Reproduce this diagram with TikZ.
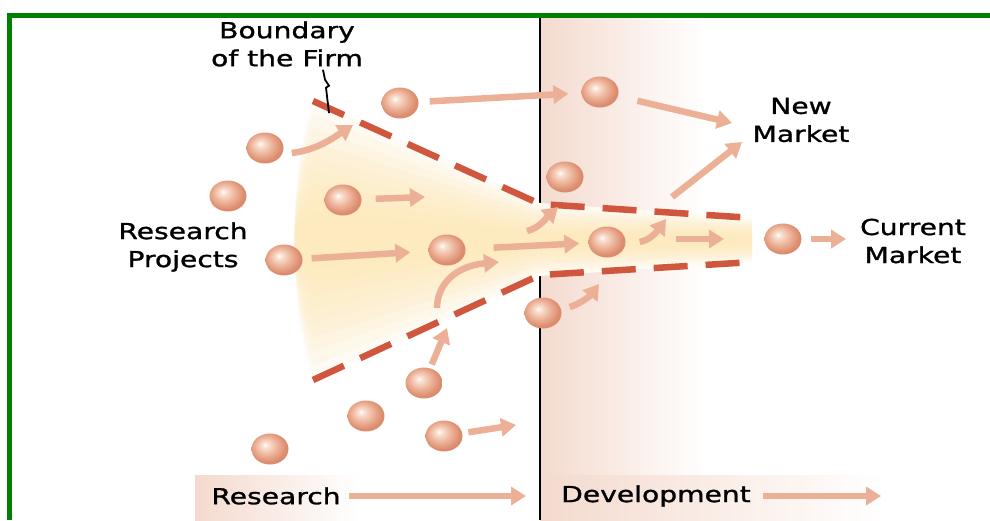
\documentclass[tikz,border=0pt]{standalone}
\usepackage{xcolor}
\usepackage{fontspec}
\usetikzlibrary{arrows.meta,shapes.geometric}
\newfontfamily\lblfont{DejaVu Sans}[FakeStretch=1.28,FakeBold=1.2]
\definecolor{arrowc}{RGB}{236,176,150}
\definecolor{dashc}{RGB}{208,86,62}
\definecolor{pinkc}{RGB}{244,218,206}
\definecolor{yelc}{RGB}{253,228,165}
\definecolor{ballA}{RGB}{250,226,212}
\definecolor{ballB}{RGB}{238,182,156}
\definecolor{ballC}{RGB}{220,140,110}
\definecolor{framec}{RGB}{0,128,0}
\pgfdeclareradialshading{sphere}{\pgfpoint{-7bp}{7bp}}{color(0bp)=(white); color(4bp)=(ballA); color(14bp)=(ballB); color(25bp)=(ballC); color(50bp)=(ballC)}

\begin{document}
\begin{tikzpicture}[x=1pt,y=-1pt,
  ball/.style={ellipse,minimum width=37pt,minimum height=31pt,inner sep=0pt,shading=sphere},
  arr/.style={arrowc,line width=6.5pt,-{Triangle[length=15pt,width=18pt]}},
  bound/.style={dashc,line width=6.5pt,dash pattern=on 34pt off 18pt},
  lbl/.style={font=\lblfont\fontsize{22}{28}\selectfont,align=center,inner sep=0pt}]
  \useasboundingbox (0,0) rectangle (990,520);
  \shade[left color=pinkc,right color=white] (540,17) rectangle (705,520);
  \shade[left color=pinkc,right color=white] (195,475) rectangle (360,520);
  \shade[left color=pinkc,right color=white] (540,475) rectangle (885,520);
  \draw[line width=2pt] (539.5,17) -- (539.5,520);
  \fill[white] (313,100) -- (540,203) -- (752,218) -- (752,262) -- (540,276) -- (313,380)
    .. controls (288,300) and (288,180) .. (313,100) -- cycle;
  \foreach \f in {1,0.9,...,0.1}
    \fill[yelc,opacity=0.12] (313,{240-140*\f}) -- (540,{240-37*\f}) -- (752,{240-22*\f})
      -- (752,{240+22*\f}) -- (540,{240+36*\f}) -- (313,{240+140*\f})
      .. controls (288,{240+60*\f}) and (288,{240-60*\f}) .. (313,{240-140*\f}) -- cycle;
  \draw[bound] (313,101) -- (540,204) -- (753,218);
  \draw[bound] (313,380) -- (540,275) -- (753,262);

  \node[ball] (b1) at (400,103) {};
  \node[ball] (b2) at (600,92) {};
  \node[ball] (b3) at (265,148) {};
  \node[ball] (b4) at (228,196) {};
  \node[ball] (b5) at (343,200) {};
  \node[ball] (b6) at (284,260) {};
  \node[ball] (b7) at (447,250) {};
  \node[ball] (b8) at (565,177) {};
  \node[ball] (b9) at (607,242) {};
  \node[ball] (b10) at (783,239) {};
  \node[ball] (b11) at (543,313) {};
  \node[ball] (b12) at (424,383) {};
  \node[ball] (b13) at (366,416) {};
  \node[ball] (b14) at (444,436) {};
  \node[ball] (b15) at (270,449) {};

  \node[lbl] (bf) at (287,44) {Boundary\\of the Firm};
  \node[lbl] (rp) at (183,247) {Research\\Projects};
  \node[lbl] (nm) at (801,120) {New\\Market};
  \node[lbl] (cm) at (913,241) {Current\\Market};
  \node[lbl] (rs) at (276,496) {Research};
  \node[lbl] (dv) at (656,496) {Development};

  \coordinate (lead) at (329,113);
  \coordinate (c2) at (732,123);
  \coordinate (c3a) at (672,197);
  \coordinate (c3b) at (742,142);
  \coordinate (c4) at (353,125);
  \coordinate (c5) at (425,197);
  \coordinate (c8a) at (527,231);
  \coordinate (c8b) at (558,207);
  \coordinate (c9a) at (437,308);
  \coordinate (c9b) at (499,262);
  \coordinate (c10) at (447,328);
  \coordinate (c11) at (666,219);
  \coordinate (c12a) at (676,239);
  \coordinate (c12b) at (724,239);
  \coordinate (c13) at (846,239);
  \coordinate (c14) at (599,284);
  \coordinate (c15) at (516,425);
  \coordinate (rse) at (526,496);
  \coordinate (dve) at (881,496);

  \draw[line width=1.8pt] (bf.south) ++(36,3) -- ++(2,10) -- ++(4,6) -- ++(-3,2) -- (lead);
  \draw[arr,shorten <=11pt,shorten >=13pt] (b1) -- (b2);
  \draw[arr,shorten <=20pt] (b2) -- (c2);
  \draw[arr] (c3a) -- (c3b);
  \draw[arr] ([shift={(8,5)}]b3.east) .. controls (318,150) and (336,136) .. (c4);
  \draw[arr,shorten <=14pt] (b5) -- (c5);
  \draw[arr,shorten <=9pt,shorten >=18pt] (b6) -- (b7);
  \draw[arr,shorten <=28pt,shorten >=9pt] (b7) -- (b9);
  \draw[arr] (c8a) .. controls (540,228) and (548,216) .. (c8b);
  \draw[arr] (c9a) .. controls (437,285) and (455,266) .. (c9b);
  \draw[arr,shorten <=4pt] (b12) -- (c10);
  \draw[arr] ([xshift=14pt]b9.east) .. controls (651,240) and (658,230) .. (c11);
  \draw[arr] (c12a) -- (c12b);
  \draw[arr,shorten <=9pt] (b10) -- (c13);
  \draw[arr] ([shift={(8,-6)}]b11.east) .. controls (580,304) and (590,296) .. (c14);
  \draw[arr,shorten <=6pt] (b14) -- (c15);
  \draw[arr,shorten <=8pt] (rs.east) -- (rse);
  \draw[arr,shorten <=12pt] (dv.east) -- (dve);

  \draw[framec,line width=5pt] (9.5,520) -- (9.5,15) -- (990,15);
\end{tikzpicture}
\end{document}
